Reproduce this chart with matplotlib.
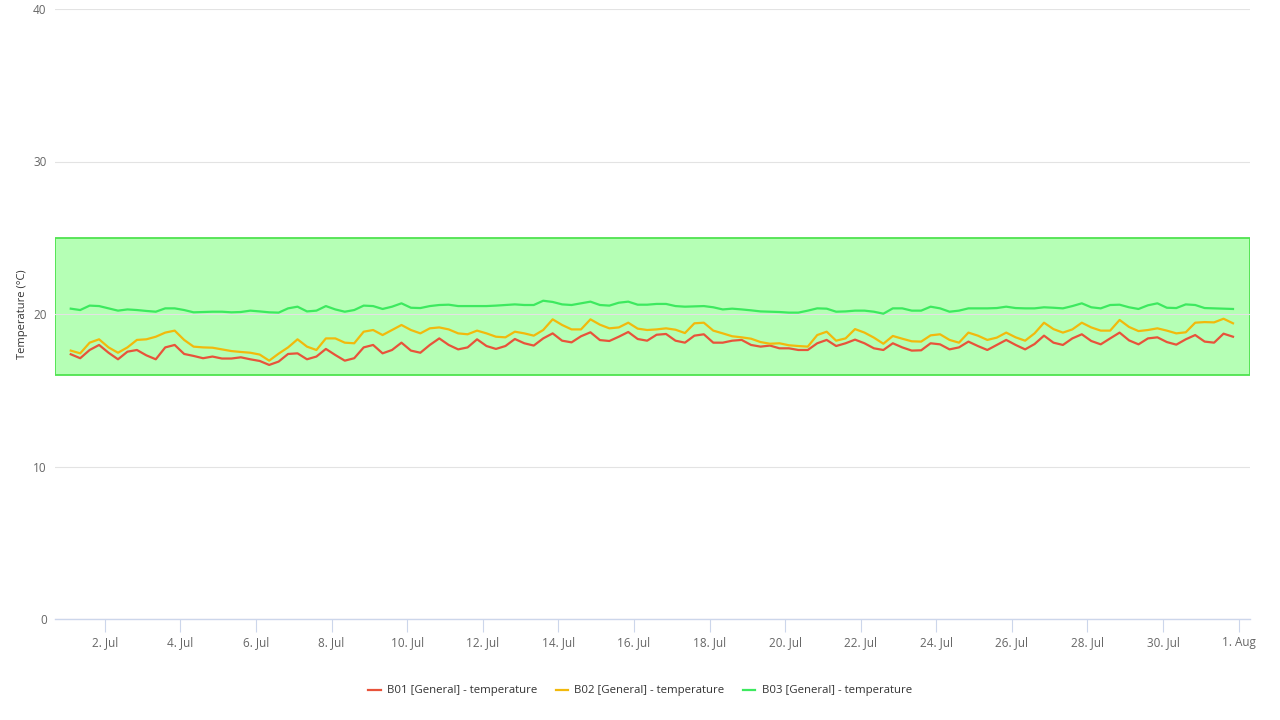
import matplotlib
matplotlib.use("Agg")
import matplotlib.pyplot as plt
import matplotlib.dates as mdates
from matplotlib.ticker import FuncFormatter
import pandas as pd

# ---- data (6-hourly samples) ----
start_time = "2023-07-01 02:24"
step = "6h"

b01 = [17.36, 17.10, 17.64, 17.97, 17.46, 17.03, 17.53, 17.64, 17.29, 17.03, 17.81, 17.97, 17.38, 17.25, 17.10, 17.21, 17.08, 17.08, 17.16, 17.03,
       16.92, 16.66, 16.88, 17.38, 17.42, 17.03, 17.21, 17.71, 17.31, 16.94, 17.10, 17.81, 17.97, 17.42, 17.64, 18.12, 17.60, 17.46, 17.97, 18.40,
       17.97, 17.68, 17.81, 18.34, 17.90, 17.71, 17.90, 18.36, 18.08, 17.93, 18.40, 18.73, 18.25, 18.14, 18.54, 18.80, 18.29, 18.23, 18.51, 18.82,
       18.36, 18.25, 18.64, 18.69, 18.25, 18.12, 18.58, 18.67, 18.12, 18.12, 18.25, 18.30, 17.97, 17.86, 17.93, 17.75, 17.75, 17.64, 17.64, 18.08,
       18.30, 17.90, 18.08, 18.32, 18.08, 17.75, 17.64, 18.08, 17.81, 17.60, 17.62, 18.08, 18.01, 17.68, 17.81, 18.19, 17.90, 17.64, 17.97, 18.30,
       17.97, 17.68, 18.03, 18.58, 18.12, 17.97, 18.40, 18.67, 18.23, 18.01, 18.40, 18.78, 18.27, 18.01, 18.40, 18.47, 18.16, 17.99, 18.34, 18.62,
       18.19, 18.12, 18.71, 18.51]

b02 = [17.60, 17.42, 18.12, 18.34, 17.81, 17.46, 17.81, 18.30, 18.34, 18.51, 18.78, 18.91, 18.30, 17.86, 17.81, 17.79, 17.68, 17.57, 17.51, 17.46,
       17.34, 16.94, 17.40, 17.81, 18.34, 17.86, 17.64, 18.40, 18.40, 18.12, 18.08, 18.84, 18.95, 18.62, 18.95, 19.28, 18.95, 18.73, 19.06, 19.12,
       18.99, 18.73, 18.67, 18.91, 18.73, 18.51, 18.47, 18.84, 18.73, 18.58, 18.95, 19.65, 19.28, 18.99, 18.99, 19.65, 19.30, 19.06, 19.12, 19.43,
       19.04, 18.95, 18.99, 19.06, 18.97, 18.75, 19.39, 19.43, 18.91, 18.73, 18.54, 18.47, 18.38, 18.16, 18.05, 18.08, 17.95, 17.90, 17.86, 18.62,
       18.84, 18.25, 18.40, 19.01, 18.78, 18.45, 18.05, 18.56, 18.38, 18.21, 18.19, 18.60, 18.67, 18.30, 18.12, 18.78, 18.58, 18.30, 18.45, 18.78,
       18.47, 18.25, 18.73, 19.43, 19.01, 18.78, 18.99, 19.43, 19.12, 18.91, 18.91, 19.61, 19.15, 18.88, 18.95, 19.06, 18.91, 18.73, 18.80, 19.43,
       19.47, 19.45, 19.69, 19.39]

b03 = [20.35, 20.26, 20.55, 20.52, 20.37, 20.22, 20.30, 20.26, 20.20, 20.15, 20.37, 20.37, 20.26, 20.11, 20.13, 20.15, 20.15, 20.11, 20.13, 20.22,
       20.17, 20.11, 20.09, 20.37, 20.48, 20.17, 20.22, 20.52, 20.30, 20.15, 20.26, 20.55, 20.52, 20.33, 20.48, 20.70, 20.41, 20.39, 20.52, 20.59,
       20.61, 20.52, 20.52, 20.52, 20.52, 20.55, 20.59, 20.63, 20.59, 20.59, 20.87, 20.79, 20.63, 20.59, 20.70, 20.81, 20.59, 20.55, 20.74, 20.81,
       20.61, 20.61, 20.66, 20.66, 20.52, 20.48, 20.50, 20.52, 20.44, 20.30, 20.35, 20.30, 20.24, 20.17, 20.15, 20.13, 20.09, 20.09, 20.22, 20.37,
       20.35, 20.15, 20.17, 20.22, 20.22, 20.15, 20.02, 20.37, 20.37, 20.22, 20.22, 20.48, 20.37, 20.15, 20.22, 20.37, 20.37, 20.37, 20.39, 20.48,
       20.39, 20.37, 20.37, 20.44, 20.41, 20.37, 20.52, 20.70, 20.44, 20.37, 20.59, 20.61, 20.44, 20.33, 20.57, 20.70, 20.41, 20.39, 20.63, 20.59,
       20.39, 20.37, 20.35, 20.33]

series_names = ["B01 [General] - temperature", "B02 [General] - temperature", "B03 [General] - temperature"]
series_colors = ["#e8533a", "#f2b90c", "#3de95f"]

band_low, band_high = 16, 25
y_ticks = [0, 10, 20, 30, 40]
x_min, x_max = "2023-06-30 16:24", "2023-08-01 07:12"
x_tick_start, x_tick_end = "2023-07-02", "2023-08-01"

# ---- figure ----
times = pd.date_range(start_time, periods=len(b01), freq=step)

fig = plt.figure(figsize=(12.8, 7.2), dpi=100)
ax = fig.add_axes([55/1280, 1-619/720, 1195/1280, 610/720])

ax.axhspan(band_low, band_high, facecolor="#b5ffb5", edgecolor="#4fe34f", linewidth=1.3, zorder=0.5)

for vals, name, col in zip([b01, b02, b03], series_names, series_colors):
    ax.plot(times, vals, color=col, linewidth=1.6, label=name, zorder=3, solid_joinstyle="round")

ax.set_ylim(0, 40)
ax.set_yticks(y_ticks)
ax.set_xlim(pd.Timestamp(x_min), pd.Timestamp(x_max))
ax.set_xticks(pd.date_range(x_tick_start, x_tick_end, freq="2D"))

def fmt(x, pos):
    d = mdates.num2date(x)
    return f"{d.day}. {d.strftime('%b')}"
ax.xaxis.set_major_formatter(FuncFormatter(fmt))

ax.grid(axis="y", color="#e3e3e3", linewidth=0.8, zorder=1)
ax.set_axisbelow(False)
for s in ["left", "right", "top"]:
    ax.spines[s].set_visible(False)
ax.spines["bottom"].set_color("#ccd6eb")
ax.spines["bottom"].set_linewidth(1.0)
ax.spines["bottom"].set_zorder(2)

ax.tick_params(axis="y", length=0, pad=6, labelsize=8.5, labelcolor="#666666")
ax.tick_params(axis="x", length=9, width=0.8, color="#ccd6eb", pad=3, labelsize=8.5, labelcolor="#666666")
for lbl in ax.get_xticklabels() + ax.get_yticklabels():
    lbl.set_family("Open Sans")

ax.set_ylabel("Temperature (°C)", fontsize=8, color="#333333", family="Open Sans")
ax.yaxis.set_label_coords(-27/1195, 0.5)

leg = fig.legend(loc="center", bbox_to_anchor=(0.5, 1-691/720), ncol=3, frameon=False,
                 handlelength=1.1, handletextpad=0.55, columnspacing=1.6,
                 prop={"family": "Open Sans", "size": 8.2})
for t in leg.get_texts():
    t.set_color("#333333")

fig.savefig("out.png", dpi=100)
